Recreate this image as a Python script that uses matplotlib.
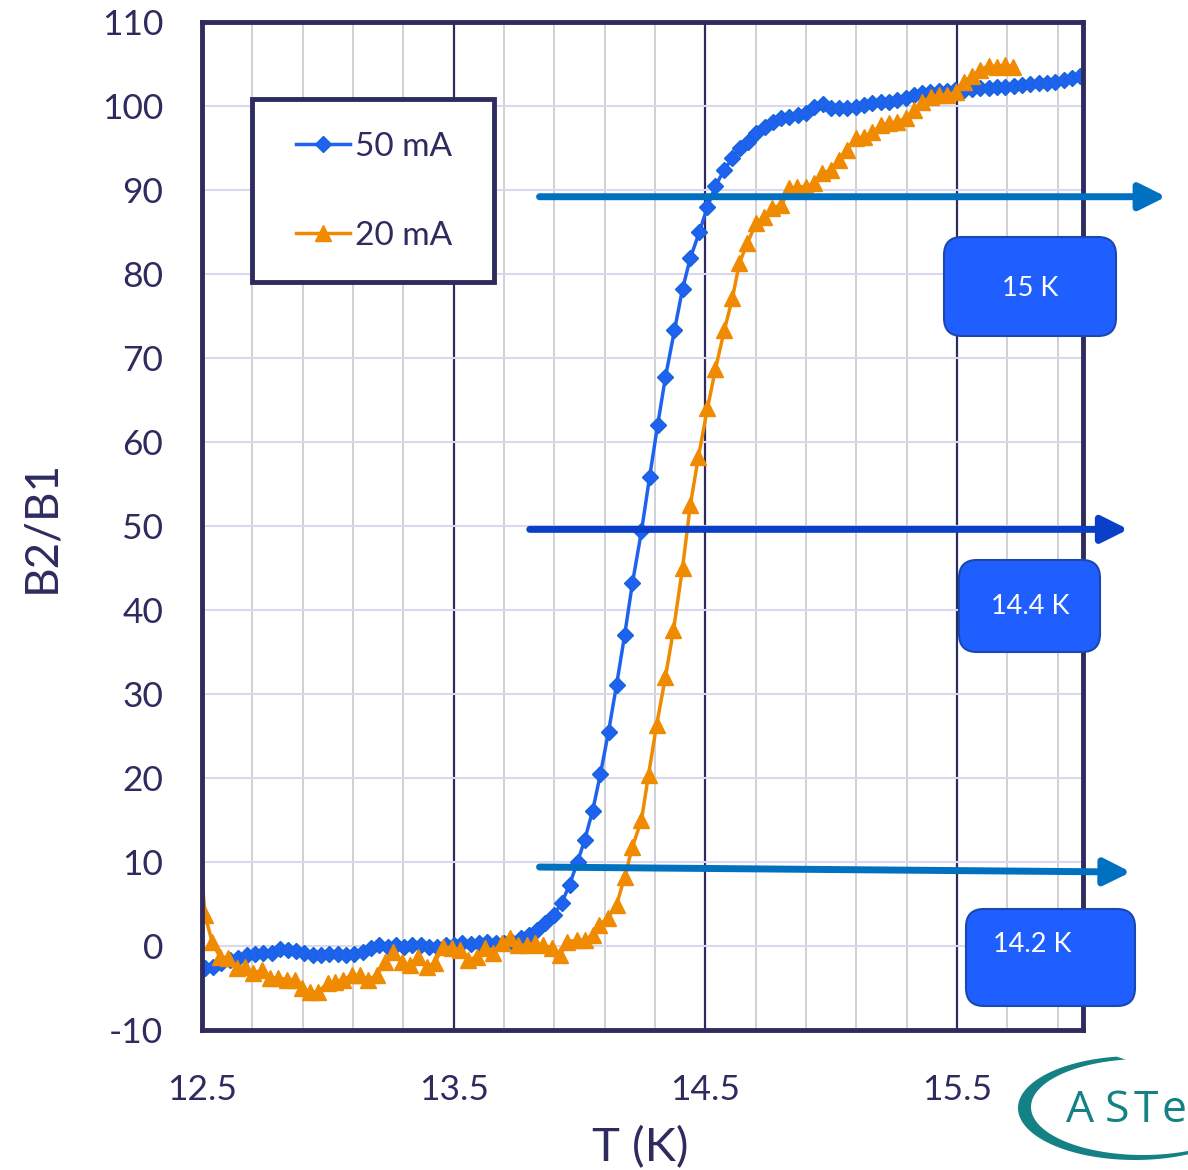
import numpy as np
import matplotlib.pyplot as plt
from matplotlib.patches import FancyBboxPatch, FancyArrowPatch, Polygon, Rectangle
from matplotlib.transforms import IdentityTransform
from matplotlib.ticker import FixedLocator

plt.rcParams['font.family'] = ['Lato', 'DejaVu Sans']
plt.rcParams['axes.unicode_minus'] = False

# B2/B1 ratio vs temperature for two drive currents
T50 = [12.512, 12.544, 12.575, 12.611, 12.643, 12.679, 12.710, 12.742, 12.778, 12.810,
       12.841, 12.873, 12.905, 12.940, 12.972, 13.004, 13.040, 13.071, 13.103, 13.139,
       13.171, 13.202, 13.238, 13.270, 13.302, 13.333, 13.369, 13.401, 13.433, 13.468,
       13.500, 13.532, 13.567, 13.599, 13.631, 13.667, 13.698, 13.730, 13.766, 13.798,
       13.829, 13.861, 13.897, 13.929, 13.960, 13.992, 14.020, 14.052, 14.083, 14.115,
       14.147, 14.179, 14.210, 14.246, 14.278, 14.310, 14.341, 14.377, 14.409, 14.440,
       14.476, 14.508, 14.540, 14.575, 14.607, 14.639, 14.671, 14.702, 14.738, 14.770,
       14.802, 14.833, 14.869, 14.901, 14.933, 14.968, 15.000, 15.032, 15.063, 15.099,
       15.131, 15.163, 15.198, 15.230, 15.262, 15.298, 15.329, 15.361, 15.393, 15.429,
       15.460, 15.492, 15.528, 15.560, 15.591, 15.627, 15.659, 15.690, 15.726, 15.758,
       15.790, 15.825, 15.857, 15.889, 15.925, 15.956, 15.988]
B50 = [-2.6, -2.5, -2.0, -1.7, -1.4, -1.1, -1.0, -0.8, -0.8, -0.4,
       -0.5, -0.6, -0.8, -1.1, -1.1, -1.0, -1.0, -1.1, -1.0, -0.7,
       -0.2, 0.1, -0.1, 0.1, -0.1, 0.1, 0.1, -0.1, -0.1, 0.1,
       0.1, 0.4, 0.2, 0.4, 0.5, 0.4, 0.4, 0.5, 1.0, 1.3,
       1.9, 2.7, 3.7, 5.1, 7.3, 10.0, 12.6, 16.1, 20.5, 25.5,
       31.1, 37.0, 43.2, 49.4, 55.8, 62.0, 67.7, 73.3, 78.2, 81.9,
       85.0, 88.0, 90.5, 92.4, 93.8, 95.0, 95.7, 96.8, 97.5, 98.1,
       98.6, 98.7, 98.9, 99.2, 99.9, 100.2, 99.8, 99.8, 99.8, 99.9,
       100.1, 100.4, 100.5, 100.5, 100.7, 101.0, 101.3, 101.5, 101.7, 101.8,
       101.8, 101.9, 101.9, 102.0, 102.1, 102.1, 102.3, 102.3, 102.4, 102.5,
       102.6, 102.7, 102.7, 102.9, 103.1, 103.3, 103.6]

T20 = [12.465, 12.512, 12.540, 12.571, 12.603, 12.639, 12.671, 12.702, 12.738, 12.770,
       12.802, 12.837, 12.869, 12.897, 12.929, 12.960, 13.000, 13.028, 13.060, 13.095,
       13.127, 13.159, 13.194, 13.226, 13.258, 13.294, 13.325, 13.357, 13.393, 13.425,
       13.456, 13.492, 13.524, 13.556, 13.591, 13.623, 13.655, 13.690, 13.722, 13.754,
       13.790, 13.821, 13.853, 13.889, 13.921, 13.952, 13.988, 14.020, 14.052, 14.079,
       14.111, 14.147, 14.179, 14.210, 14.246, 14.274, 14.306, 14.341, 14.373, 14.409,
       14.440, 14.472, 14.508, 14.540, 14.575, 14.607, 14.635, 14.667, 14.702, 14.734,
       14.766, 14.802, 14.833, 14.865, 14.901, 14.933, 14.964, 15.000, 15.032, 15.063,
       15.099, 15.131, 15.163, 15.198, 15.230, 15.262, 15.298, 15.329, 15.361, 15.397,
       15.429, 15.460, 15.496, 15.528, 15.560, 15.591, 15.627, 15.659, 15.690, 15.722]
B20 = [21.3, 3.7, 0.5, -1.3, -1.4, -2.6, -2.5, -3.2, -2.9, -3.8,
       -3.8, -4.0, -4.0, -5.0, -5.5, -5.5, -4.4, -4.3, -4.0, -3.5,
       -3.5, -4.0, -3.5, -1.9, -0.7, -1.9, -2.3, -1.3, -2.5, -2.0,
       -0.1, -0.2, -0.5, -1.7, -1.3, -0.2, -0.8, 0.4, 1.0, 0.1,
       0.1, 0.4, 0.1, -0.2, -1.1, 0.5, 0.7, 0.7, 1.3, 2.5,
       3.3, 4.9, 8.2, 11.8, 15.0, 20.4, 26.3, 32.0, 37.6, 45.0,
       52.5, 58.2, 64.0, 68.7, 73.3, 77.1, 81.3, 83.7, 86.1, 86.8,
       87.9, 88.2, 90.2, 90.4, 90.4, 90.8, 92.0, 92.4, 93.6, 94.8,
       96.2, 96.3, 96.9, 97.7, 98.0, 98.1, 98.6, 99.5, 100.5, 101.1,
       101.3, 101.3, 101.7, 102.9, 103.6, 104.3, 104.8, 104.7, 104.9, 104.6]

x_ticks = [12.5, 13.5, 14.5, 15.5]
x_minor = [12.7, 12.9, 13.1, 13.3, 13.7, 13.9, 14.1, 14.3, 14.7, 14.9, 15.1, 15.3,
           15.7, 15.9]
y_ticks = list(range(-10, 111, 10))

# level markers: (T start, ratio start, T end, ratio end)
arrows = [(13.841, 89.2, 16.33, 89.2),
          (13.802, 49.6, 16.18, 49.6),
          (13.841, 9.4, 16.19, 8.8)]
arrow_colors = ['#0070C0', '#0A3FC8', '#0070C0']
box_labels = ['15 K', '14.4 K', '14.2 K']

navy = '#2E2B5F'
blue = '#1F62F2'
orange = '#F08A00'
teal = '#148185'

W, H = 1188, 1170
fig = plt.figure(figsize=(W / 100, H / 100), dpi=100)
ax = fig.add_axes([202 / W, 1 - 1030 / H, 881 / W, 1008 / H])

ax.plot(T50, B50, color=blue, lw=2.5, marker='D', ms=8, mfc=blue, mec='#1565D8',
        mew=1, label='50 mA', zorder=3)
ax.plot(T20, B20, color=orange, lw=2.5, marker='^', ms=11, mfc=orange, mec=orange,
        label='20 mA', zorder=4)

ax.set_xlim(12.5, 16.0)
ax.set_ylim(-10, 110)
ax.xaxis.set_major_locator(FixedLocator(x_ticks))
ax.xaxis.set_minor_locator(FixedLocator(x_minor))
ax.set_yticks(y_ticks)
ax.set_axisbelow(True)
ax.grid(True, which='major', axis='x', color=navy, lw=1.6)
ax.grid(True, which='minor', axis='x', color='#C9C8D0', lw=1.2)
ax.grid(True, which='major', axis='y', color='#DAD8EC', lw=1.5)
ax.tick_params(which='both', length=0)
ax.tick_params(axis='both', labelsize=25.5, labelcolor=navy)
ax.tick_params(axis='y', pad=28)
ax.tick_params(axis='x', pad=32)

for s in ax.spines.values():
    s.set_color(navy)
    s.set_linewidth(3.5)
    s.set_zorder(5)

ax.set_xlabel('T (K)', fontsize=34, color=navy)
ax.xaxis.set_label_coords(0.497, -0.095)
ax.set_ylabel('B2/B1', fontsize=33, color=navy)
ax.yaxis.set_label_coords(-0.159, 0.5)

# legend: framed box drawn separately, entries placed inside it
ax.add_patch(Rectangle((50 / 881, 1 - 260 / 1008), 242 / 881, 183 / 1008,
                       transform=ax.transAxes, fc='white', ec=navy, lw=3.5, zorder=5))
leg = ax.legend(loc='upper left', bbox_to_anchor=(94 / 881, 1 - 109.5 / 1008),
                borderaxespad=0, borderpad=0, frameon=False, fontsize=24,
                handlelength=1.62, handletextpad=0.15, labelspacing=1.79)
leg.set_zorder(6)
for t in leg.get_texts():
    t.set_color(navy)

for (x0, y0, x1, y1), c in zip(arrows, arrow_colors):
    ax.add_patch(FancyArrowPatch((x0, y0), (x1, y1), arrowstyle='-|>', mutation_scale=40,
                                 lw=5, color=c, shrinkA=0, shrinkB=0, clip_on=False,
                                 zorder=7))

# rounded label boxes, laid out in pixels (top-left origin)
boxes = [(944, 237, 1116, 336), (959, 560, 1100, 652), (966, 909, 1135, 1006)]
text_pos = [(1030, 289), (1030, 607), (1032, 945)]
for (bx0, by0, bx1, by1), (tx, ty), lab in zip(boxes, text_pos, box_labels):
    fig.add_artist(FancyBboxPatch((bx0, H - by1), bx1 - bx0, by1 - by0,
                                  boxstyle='round,pad=0,rounding_size=18',
                                  transform=IdentityTransform(), fc='#1F5EFF',
                                  ec='#1948B0', lw=1.5, zorder=5))
    fig.text(tx, H - ty, lab, transform=IdentityTransform(), ha='center', va='center',
             color='white', fontsize=19.5, zorder=6)

# logo: crescent swoosh plus spaced lettering
th = np.radians(np.linspace(99, 300, 120))
outer = np.c_[1135 + 117 * np.cos(th), 62 + 52 * np.sin(th)]
inner = np.c_[1143 + 112 * np.cos(th[::-1]), 63 + 48 * np.sin(th[::-1])]
fig.add_artist(Polygon(np.vstack([outer, inner]), closed=True, transform=IdentityTransform(),
                       fc=teal, ec='none', zorder=5))
for ch, cx in zip('ASTe', [1080, 1117, 1146, 1174]):
    fig.text(cx, H - 1122, ch, transform=IdentityTransform(), fontsize=32,
             family=['Open Sans', 'DejaVu Sans'], color=teal, ha='center', va='baseline')

fig.savefig('out.png', dpi=100)
